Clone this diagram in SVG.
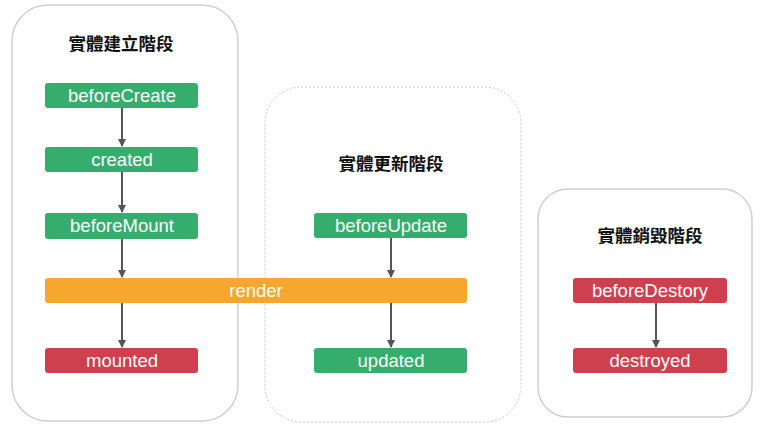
<svg xmlns="http://www.w3.org/2000/svg" width="780" height="429" viewBox="0 0 780 429">
<style>
.box{fill:#fff;stroke:#cfcfcf;stroke-width:1.5}
.dash{fill:#fff;stroke:#c8c8c8;stroke-width:1;stroke-dasharray:2 2}
.title{font-family:"Noto Sans CJK TC","Noto Sans CJK SC",sans-serif;font-size:17.5px;font-weight:bold;fill:#111;text-anchor:middle}
.lbl{font-family:"Liberation Sans",Arial,sans-serif;font-size:18.5px;fill:#fff;text-anchor:middle}
.g{fill:#34ad6d}
.r{fill:#cf404f}
.o{fill:#f6a72e}
.c{stroke:#555;stroke-width:2;fill:none;marker-end:url(#ah)}
</style>
<defs>
<marker id="ah" viewBox="0 0 8 8" refX="7" refY="4" markerWidth="4" markerHeight="4" orient="auto" markerUnits="strokeWidth">
<path d="M0,0 L8,4 L0,8 z" fill="#555"/>
</marker>
</defs>
<rect width="780" height="429" fill="#fff"/>
<g id="phase-create">
<rect class="box" x="12" y="5" width="226" height="416" rx="36"/>
<text class="title" x="121" y="50">實體建立階段</text>
</g>
<g id="phase-update">
<rect class="dash" x="265" y="87" width="256" height="335" rx="36"/>
<text class="title" x="391" y="170">實體更新階段</text>
</g>
<g id="phase-destroy">
<rect class="box" x="538" y="189" width="214" height="228" rx="30"/>
<text class="title" x="650" y="242">實體銷毀階段</text>
</g>
<g id="connectors">
<line class="c" x1="122" y1="108" x2="122" y2="146"/>
<line class="c" x1="122" y1="172" x2="122" y2="212"/>
<line class="c" x1="122" y1="239" x2="122" y2="277"/>
<line class="c" x1="122" y1="303" x2="122" y2="347"/>
<line class="c" x1="391" y1="238" x2="391" y2="277"/>
<line class="c" x1="391" y1="303" x2="391" y2="347"/>
<line class="c" x1="656" y1="303" x2="656" y2="347"/>
</g>
<g id="beforeCreate">
<rect class="g" x="45" y="83" width="153" height="25" rx="3"/>
<text class="lbl" x="122" y="102">beforeCreate</text>
</g>
<g id="created">
<rect class="g" x="45" y="147" width="153" height="25" rx="3"/>
<text class="lbl" x="122" y="166">created</text>
</g>
<g id="beforeMount">
<rect class="g" x="45" y="213" width="153" height="26" rx="3"/>
<text class="lbl" x="122" y="232">beforeMount</text>
</g>
<g id="render">
<rect class="o" x="45" y="278" width="422" height="25" rx="3"/>
<text class="lbl" x="256" y="297">render</text>
</g>
<g id="mounted">
<rect class="r" x="45" y="348" width="153" height="25" rx="3"/>
<text class="lbl" x="122" y="367">mounted</text>
</g>
<g id="beforeUpdate">
<rect class="g" x="314" y="213" width="153" height="25" rx="3"/>
<text class="lbl" x="391" y="232">beforeUpdate</text>
</g>
<g id="updated">
<rect class="g" x="314" y="348" width="153" height="25" rx="3"/>
<text class="lbl" x="391" y="367">updated</text>
</g>
<g id="beforeDestory">
<rect class="r" x="573" y="278" width="154" height="25" rx="3"/>
<text class="lbl" x="650" y="297">beforeDestory</text>
</g>
<g id="destroyed">
<rect class="r" x="573" y="348" width="154" height="25" rx="3"/>
<text class="lbl" x="650" y="367">destroyed</text>
</g>
</svg>
